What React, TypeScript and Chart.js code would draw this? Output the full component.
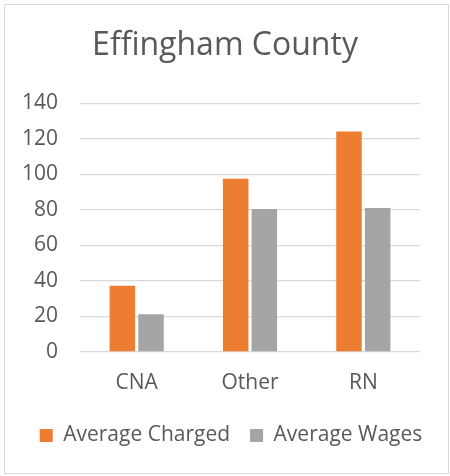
import React, { useEffect, useRef } from "react";
import { Chart, registerables } from "chart.js";

Chart.register(...registerables);

const categories = ["CNA", "Other", "RN"];
const averageCharged = [37.3, 97.5, 124.2];
const averageWages = [21.3, 80.6, 81.1];
const yTicks = [0, 20, 40, 60, 80, 100, 120, 140];

const FONT = "'Open Sans', sans-serif";
const TEXT = "#595959";

const legendShift = {
  id: "legendShift",
  afterLayout(chart: any) {
    if (chart.legend) {
      chart.legend.left += 6;
      chart.legend.right += 6;
    }
  },
};

export default function App() {
  const ref = useRef<HTMLCanvasElement | null>(null);
  useEffect(() => {
    document.body.style.margin = "0";
    const ctx = ref.current!;
    const chart = new Chart(ctx, {
      type: "bar",
      data: {
        labels: categories,
        datasets: [
          { label: "Average Charged", data: averageCharged, backgroundColor: "#ED7D31", barPercentage: 0.89, categoryPercentage: 0.506, yAxisID: "y" },
          { label: "Average Wages", data: averageWages, backgroundColor: "#A5A5A5", barPercentage: 0.89, categoryPercentage: 0.506, yAxisID: "y" },
        ],
      },
      plugins: [legendShift],
      options: {
        animation: false,
        responsive: false,
        layout: { padding: { left: 0, right: 0, top: 27, bottom: 20 } },
        plugins: {
          title: {
            display: true,
            text: "Effingham County",
            color: TEXT,
            font: { family: FONT, size: 32, weight: "normal" },
            padding: { top: 0, bottom: 38 },
          },
          legend: {
            position: "bottom",
            labels: {
              color: TEXT,
              font: { family: FONT, size: 21 },
              boxWidth: 13,
              boxHeight: 13,
              padding: 20,
            },
          },
          tooltip: { enabled: false },
        },
        scales: {
          x: {
            afterFit: (s: any) => { s.height = 53; },
            grid: { display: false, drawTicks: false },
            border: { display: false },
            ticks: { color: TEXT, font: { family: FONT, size: 21 }, padding: 18 },
          },
          y: {
            min: 0,
            max: 140,
            afterBuildTicks: (s: any) => { s.ticks = yTicks.map((v) => ({ value: v })); },
            afterFit: (s: any) => { s.width = 80; },
            grid: { color: "#D9D9D9", lineWidth: 1.3, drawTicks: false },
            border: { display: false },
            ticks: { color: TEXT, font: { family: FONT, size: 21 }, padding: 22 },
          },
          yRight: {
            position: "right",
            display: true,
            afterFit: (s: any) => { s.width = 30; },
            grid: { display: false, drawTicks: false },
            border: { display: false },
            ticks: { display: false },
          },
        },
      },
    });
    return () => chart.destroy();
  }, []);
  return (
    <div style={{ position: "relative", width: 450, height: 476, background: "#fff" }}>
      <canvas ref={ref} width={450} height={476} style={{ position: "absolute", left: 0, top: 0 }} />
      <div style={{ position: "absolute", left: 4, top: 4, width: 443, height: 468, border: "1px solid #D9D9D9", pointerEvents: "none" }} />
    </div>
  );
}
